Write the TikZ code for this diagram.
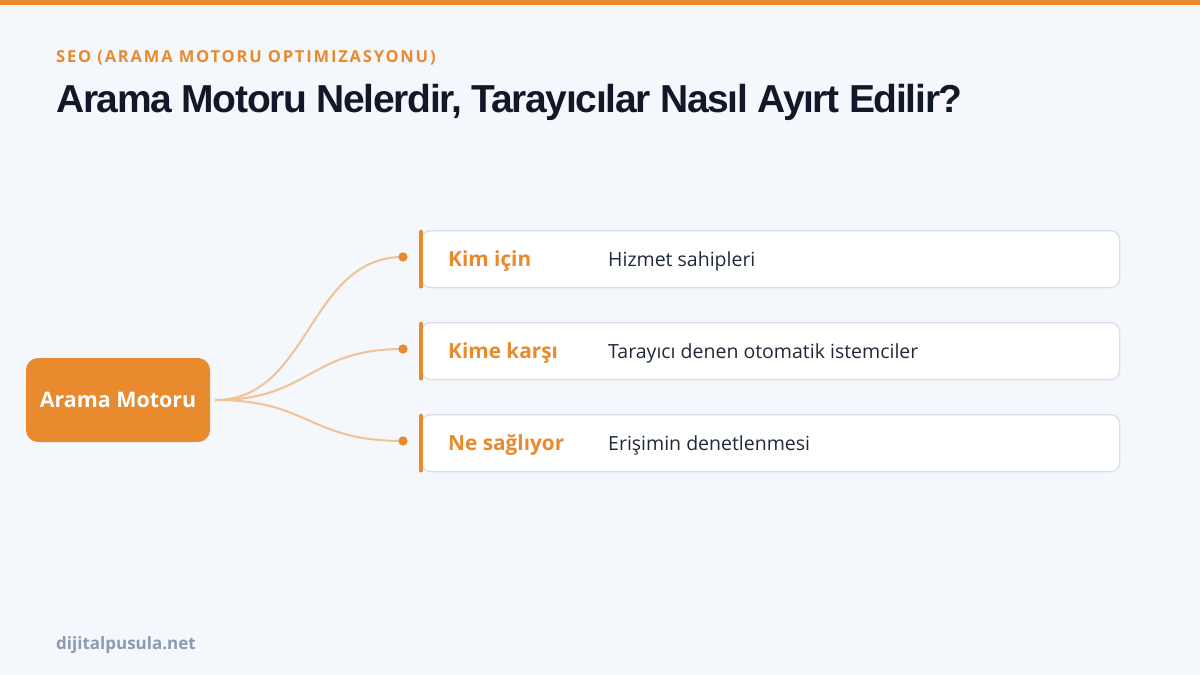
\documentclass[tikz,border=0pt]{standalone}
\usepackage{fontspec}
\setmainfont{Open Sans}
\newfontfamily\spacedfont[LetterSpace=11]{Open Sans}
\newfontfamily\headfont[LetterSpace=-3.4]{Liberation Sans}
\definecolor{pageback}{HTML}{F4F7FB}
\definecolor{accent}{HTML}{E88A2D}
\definecolor{softaccent}{HTML}{F0C395}
\definecolor{inkdark}{HTML}{111827}
\definecolor{inktext}{HTML}{1F2937}
\definecolor{cardline}{HTML}{D9DFEA}
\definecolor{footgray}{HTML}{8A9BB2}
\tikzset{
  hubbox/.style={fill=accent, rounded corners=12pt, minimum width=184pt, minimum height=84pt,
    text=white, font=\bfseries\fontsize{21.4}{25}\selectfont},
  cardbox/.style={draw=cardline, fill=white, line width=1.3pt, rounded corners=9pt,
    minimum width=698pt, minimum height=57pt, anchor=north west},
  cardbar/.style={accent, line width=4.5pt, line cap=round, shorten <=2pt, shorten >=2pt},
  keytext/.style={anchor=base west, inner sep=0pt, text=accent, font=\bfseries\fontsize{20.8}{24}\selectfont},
  valtext/.style={anchor=base west, inner sep=0pt, text=inktext, font=\fontsize{19.5}{23}\selectfont},
  branch/.style={softaccent, line width=2pt},
  joint/.style={circle, fill=accent, inner sep=0pt, minimum size=9pt}
}
\begin{document}
\begin{tikzpicture}[x=1pt,y=-1pt]
  \useasboundingbox (0,0) rectangle (1200,675);
  \fill[pageback] (0,0) rectangle (1200,675);
  \fill[accent] (0,0) rectangle (1200,4.5);

  % heading
  \node[anchor=base west, inner sep=0pt, text=accent, font=\spacedfont\bfseries\fontsize{16.5}{20}\selectfont]
    (kicker) at (56,62) {SEO (ARAMA MOTORU OPTIMIZASYONU)};
  \node[anchor=base west, inner sep=0pt, text=inkdark, font=\headfont\bfseries\fontsize{39}{46}\selectfont]
    (headline) at (56,112) {Arama Motoru Nelerdir, Tarayıcılar Nasıl Ayırt Edilir?};

  % hub
  \node[hubbox] (hub) at (118,400) {Arama Motoru};

  % cards
  \node[cardbox] (cardA) at (421,230) {};
  \node[cardbox] (cardB) at (421,322) {};
  \node[cardbox] (cardC) at (421,414) {};
  \draw[cardbar] (cardA.north west) -- (cardA.south west);
  \draw[cardbar] (cardB.north west) -- (cardB.south west);
  \draw[cardbar] (cardC.north west) -- (cardC.south west);

  \node[keytext] (keyA) at (448,266) {Kim için};
  \node[valtext] (valA) at (608,266) {Hizmet sahipleri};
  \node[keytext] (keyB) at (448,358) {Kime karşı};
  \node[valtext] (valB) at (608,358) {Tarayıcı denen otomatik istemciler};
  \node[keytext] (keyC) at (448,450) {Ne sağlıyor};
  \node[valtext] (valC) at (608,450) {Erişimin denetlenmesi};

  % branches
  \node[joint] (dotA) at (403,257) {};
  \node[joint] (dotB) at (403,349) {};
  \node[joint] (dotC) at (403,441) {};
  \coordinate (root) at ([xshift=5pt]hub.east);
  \draw[branch] (root) .. controls +(95,0) and +(-95,0) .. (dotA.center);
  \draw[branch] (root) .. controls +(95,0) and +(-95,0) .. (dotB.center);
  \draw[branch] (root) .. controls +(95,0) and +(-95,0) .. (dotC.center);
  \node[joint] at (dotA) {};
  \node[joint] at (dotB) {};
  \node[joint] at (dotC) {};

  % footer
  \node[anchor=base west, inner sep=0pt, text=footgray, font=\bfseries\fontsize{17}{20}\selectfont]
    (site) at (56,649) {dijitalpusula.net};
\end{tikzpicture}
\end{document}
